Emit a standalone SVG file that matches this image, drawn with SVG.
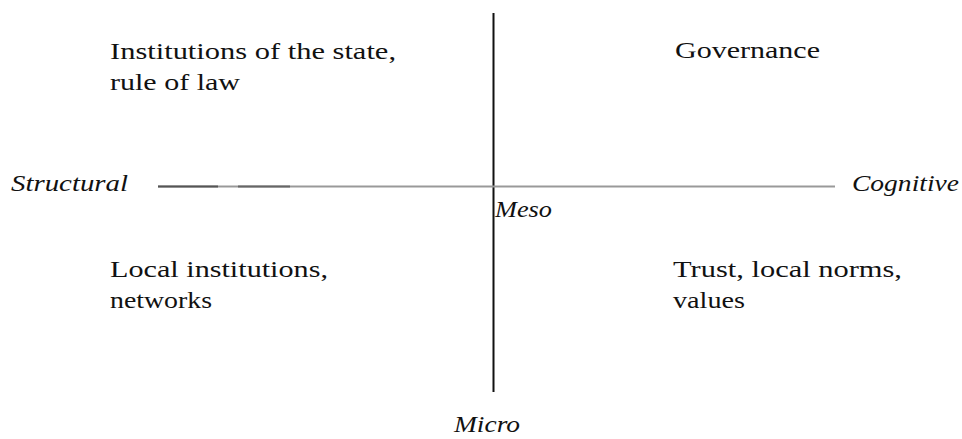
<svg xmlns="http://www.w3.org/2000/svg" width="962" height="439" viewBox="0 0 962 439">
<style>
.t{font-family:"Liberation Serif","Times New Roman",serif;font-size:23px;fill:#111}
.i{font-style:italic}
</style>
<rect width="962" height="439" fill="#fff"/>
<g id="connectors">
<line x1="493.5" y1="13" x2="493.5" y2="392" stroke="#111" stroke-width="2"/>
<line x1="158" y1="186.5" x2="835" y2="186.5" stroke="#999" stroke-width="2"/>
<line x1="158" y1="186.5" x2="218" y2="186.5" stroke="#555" stroke-width="2"/>
<line x1="238" y1="186.5" x2="290" y2="186.5" stroke="#666" stroke-width="2"/>
</g>
<g id="axis-structural"><text class="t i" x="11" y="191" textLength="117" lengthAdjust="spacingAndGlyphs">Structural</text></g>
<g id="axis-cognitive"><text class="t i" x="852" y="191" textLength="107" lengthAdjust="spacingAndGlyphs">Cognitive</text></g>
<g id="axis-meso"><text class="t i" x="495" y="217" textLength="57" lengthAdjust="spacingAndGlyphs">Meso</text></g>
<g id="axis-micro"><text class="t i" x="454" y="432" textLength="66" lengthAdjust="spacingAndGlyphs">Micro</text></g>
<g id="q-top-left">
<text class="t" x="110" y="59" textLength="286" lengthAdjust="spacingAndGlyphs">Institutions of the state,</text>
<text class="t" x="110" y="90" textLength="130" lengthAdjust="spacingAndGlyphs">rule of law</text>
</g>
<g id="q-top-right"><text class="t" x="675" y="58" textLength="145" lengthAdjust="spacingAndGlyphs">Governance</text></g>
<g id="q-bottom-left">
<text class="t" x="110" y="277" textLength="218" lengthAdjust="spacingAndGlyphs">Local institutions,</text>
<text class="t" x="110" y="308" textLength="102" lengthAdjust="spacingAndGlyphs">networks</text>
</g>
<g id="q-bottom-right">
<text class="t" x="673" y="277" textLength="229" lengthAdjust="spacingAndGlyphs">Trust, local norms,</text>
<text class="t" x="673" y="308" textLength="72" lengthAdjust="spacingAndGlyphs">values</text>
</g>
</svg>
